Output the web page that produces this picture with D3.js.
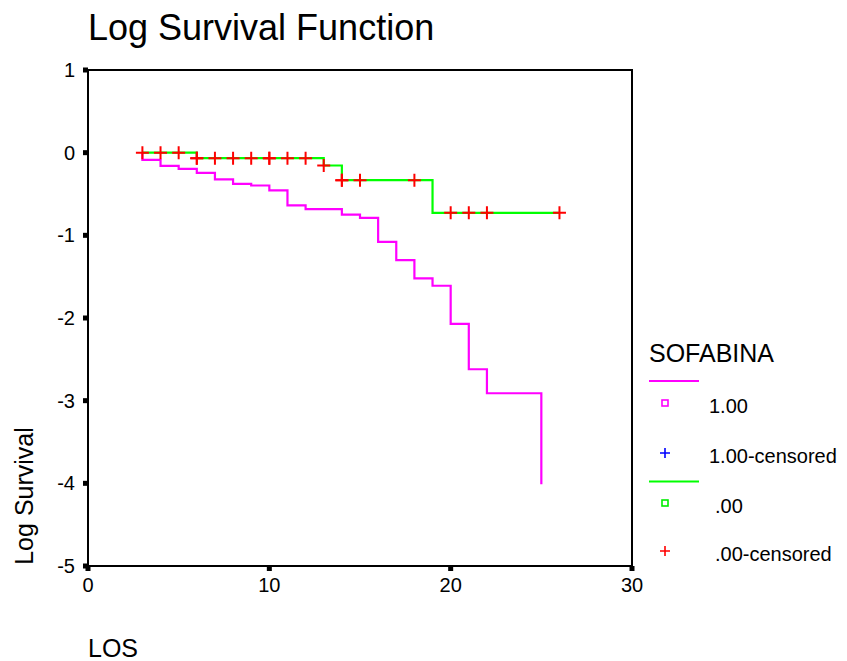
<!DOCTYPE html>
<html><head><meta charset="utf-8">
<script src="https://cdn.jsdelivr.net/npm/d3@7"></script>
<style>body{margin:0;background:#fff}svg{display:block;font-family:Arial,"Liberation Sans",sans-serif}</style>
</head><body><svg id="c" width="847" height="661"></svg>
<script>
// Data: group 1.00 (magenta) step curve, event times and log survival after the step
const times1 = [3, 3, 4, 5, 6, 7, 8, 9, 10, 11, 12, 14, 15, 16, 17, 18, 19, 20, 21, 22, 25];
const logS1  = [0, -0.087, -0.16, -0.196, -0.244, -0.324, -0.377, -0.397, -0.457, -0.638, -0.683, -0.75, -0.79, -1.08, -1.30, -1.52, -1.61, -2.07, -2.62, -2.91, -4.01];
// group .00 (green)
const times0 = [3, 6, 13, 14, 19, 26];
const logS0  = [0, -0.067, -0.155, -0.333, -0.728, -0.728];
// censored observations of group .00
const censTimes0 = [3, 4, 5, 6, 6, 7, 8, 9, 10, 10, 11, 12, 13, 14, 14, 15, 18, 20, 21, 22, 26];
const censLogS0  = [0, 0, 0, -0.067, -0.067, -0.067, -0.067, -0.067, -0.067, -0.067, -0.067, -0.067, -0.155, -0.333, -0.333, -0.333, -0.333, -0.728, -0.728, -0.728, -0.728];
const xTicks = [0, 10, 20, 30];
const yTicks = [1, 0, -1, -2, -3, -4, -5];
const legendItems = [
  {label: "1.00", kind: "square", color: "#ff00ff", line: "#ff00ff"},
  {label: "1.00-censored", kind: "plus", color: "#0000ff"},
  {label: ".00", kind: "square", color: "#00ee00", line: "#00ff00"},
  {label: ".00-censored", kind: "plus", color: "#ff0000"}
];

const svg = d3.select("#c");
const L = 88, R = 632, T = 70, B = 566;
const x = d3.scaleLinear().domain([0, 30]).range([L, R]);
const y = d3.scaleLinear().domain([-5, 1]).range([B, T]);

svg.append("text").attr("x", 88).attr("y", 40).attr("font-size", 36).attr("fill", "#000").text("Log Survival Function");

// frame
svg.append("rect").attr("x", L).attr("y", T).attr("width", R - L).attr("height", B - T)
  .attr("fill", "none").attr("stroke", "#000").attr("stroke-width", 2);

// ticks (square marks) and labels
const g = svg.append("g");
yTicks.forEach(v => {
  g.append("rect").attr("x", L - 5).attr("y", y(v) - 2.5).attr("width", 5).attr("height", 5).attr("fill", "#000");
  g.append("text").attr("x", 75).attr("y", y(v) + 7).attr("text-anchor", "end").attr("font-size", 20).text(String(v));
});
xTicks.forEach(v => {
  g.append("rect").attr("x", x(v) - 2.5).attr("y", B).attr("width", 5).attr("height", 5).attr("fill", "#000");
  g.append("text").attr("x", x(v)).attr("y", 592).attr("text-anchor", "middle").attr("font-size", 20).text(String(v));
});

svg.append("text").attr("transform", "translate(33,496) rotate(-90)").attr("text-anchor", "middle").attr("font-size", 25).text("Log Survival");
svg.append("text").attr("x", 88).attr("y", 657).attr("font-size", 25).text("LOS");

const line = d3.line().x(d => x(d[0])).y(d => y(d[1])).curve(d3.curveStepAfter);
const pts1 = times1.map((t, i) => [t, logS1[i]]);
svg.append("path").attr("d", line(pts1)).attr("fill", "none").attr("stroke", "#ff00ff").attr("stroke-width", 2.2);
const pts0 = times0.map((t, i) => [t, logS0[i]]);
svg.append("path").attr("d", line(pts0)).attr("fill", "none").attr("stroke", "#00ff00").attr("stroke-width", 2.2);

const plus = (sel, cx, cy, r, color, w) => {
  sel.append("path").attr("d", `M${cx - r},${cy}H${cx + r}M${cx},${cy - r}V${cy + r}`)
    .attr("stroke", color).attr("stroke-width", w).attr("fill", "none");
};
censTimes0.forEach((t, i) => plus(svg, x(t), y(censLogS0[i]), 6.5, "#ff0000", 2));

// legend
svg.append("text").attr("x", 649).attr("y", 362).attr("font-size", 25).text("SOFABINA");
const ly = [403, 453, 503, 551];
const lineY = [381, null, 481.5, null];
legendItems.forEach((d, i) => {
  if (d.line) svg.append("line").attr("x1", 649).attr("x2", 699).attr("y1", lineY[i]).attr("y2", lineY[i]).attr("stroke", d.line).attr("stroke-width", 2);
  if (d.kind === "square") svg.append("rect").attr("x", 662).attr("y", ly[i] - 3).attr("width", 6).attr("height", 6).attr("fill", "none").attr("stroke", d.color).attr("stroke-width", 1.6);
  else plus(svg, 665, ly[i], 5, d.color, 1.6);
  svg.append("text").attr("x", i < 2 ? 709 : 715).attr("y", ly[i] + 10).attr("font-size", 20).text(d.label);
});
</script></body></html>
